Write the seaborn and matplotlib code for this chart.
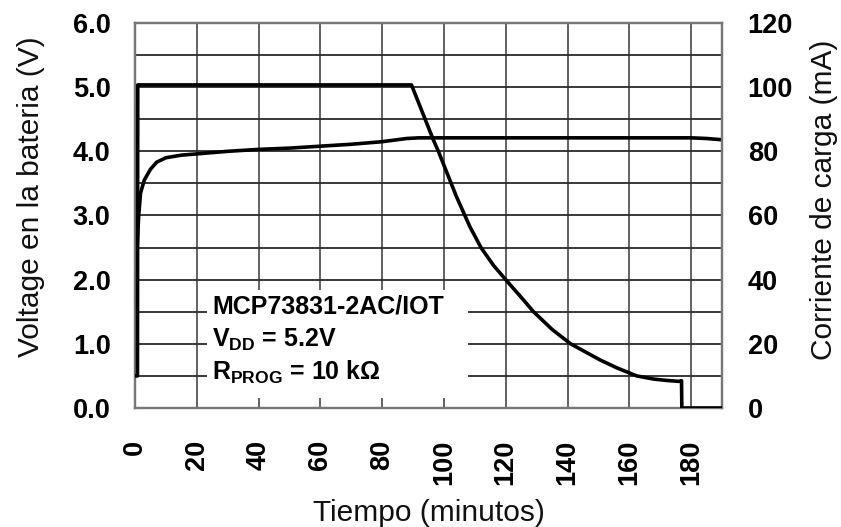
import matplotlib
matplotlib.use("Agg")
import matplotlib.pyplot as plt
import seaborn as sns
import pandas as pd
from matplotlib.patches import Rectangle

# ---- data ----
volt_t = [0.4, 0.8, 1.2, 1.8, 3.0, 5.0, 7.0, 10.0, 15.0, 20.0, 30.0, 40.0, 50.0,
          60.0, 70.0, 80.0, 88.0, 92.0, 100.0, 120.0, 140.0, 160.0, 180.0, 185.0, 190.0]
volt_v = [2.15, 2.6, 3.0, 3.35, 3.55, 3.72, 3.83, 3.9, 3.94, 3.96, 4.0, 4.03, 4.05,
          4.08, 4.11, 4.15, 4.2, 4.21, 4.21, 4.21, 4.21, 4.21, 4.21, 4.2, 4.18]

curr_t = [0.0, 0.8, 0.9, 10.0, 30.0, 50.0, 70.0, 89.5, 96.6, 98.2, 104.0, 108.4,
          112.0, 116.0, 120.0, 125.0, 129.0, 135.0, 141.0, 150.5, 156.0, 162.4,
          168.0, 172.0, 176.0, 176.9, 177.0, 190.0]
curr_i = [10.0, 10.0, 100.7, 100.7, 100.7, 100.7, 100.7, 100.7, 83.5, 80.0, 66.0, 56.5,
          50.0, 44.5, 40.0, 34.5, 30.0, 24.5, 20.0, 15.0, 12.5, 10.0,
          9.0, 8.6, 8.3, 8.5, 0.0, 0.0]

x_ticks = [0, 20, 40, 60, 80, 100, 120, 140, 160, 180]
v_ticks = [0.0, 1.0, 2.0, 3.0, 4.0, 5.0, 6.0]
i_ticks = [0, 20, 40, 60, 80, 100, 120]

annot_lines = ["MCP73831-2AC/IOT", r"V$_{\mathbf{DD}}$ = 5.2V",
               "R$_{\\mathbf{PROG}}$ = 10 k\u03A9"]

sns.set_theme(style="white")
plt.rcParams["font.family"] = ["Liberation Sans", "DejaVu Sans"]
plt.rcParams["mathtext.fontset"] = "custom"
plt.rcParams["mathtext.rm"] = "Liberation Sans"
plt.rcParams["mathtext.bf"] = "Liberation Sans:bold"

fig = plt.figure(figsize=(8.41, 5.27), dpi=100)
ax = fig.add_axes([0.1605, 0.2258, 0.6980, 0.7306])
ax2 = ax.twinx()

dv = pd.DataFrame({"t": volt_t, "v": volt_v})
di = pd.DataFrame({"t": curr_t, "i": curr_i})

sns.lineplot(data=dv, x="t", y="v", ax=ax, color="black", lw=2.6,
             estimator=None, sort=False, zorder=3)
sns.lineplot(data=di, x="t", y="i", ax=ax2, color="black", lw=2.6,
             estimator=None, sort=False, zorder=3)

ax.set_xlim(0, 190)
ax.set_ylim(0, 6)
ax2.set_ylim(0, 120)

ax.set_xticks(x_ticks)
ax.set_xticklabels([str(x) for x in x_ticks], rotation=90, fontsize=19.5,
                   fontweight="bold")
ax.set_yticks(v_ticks)
ax.set_yticklabels([f"{v:.1f}" for v in v_ticks], fontsize=19.5, fontweight="bold")
ax.set_yticks([0.5, 1.5, 2.5, 3.5, 4.5, 5.5], minor=True)
ax2.set_yticks(i_ticks)
ax2.set_yticklabels([str(i) for i in i_ticks], fontsize=19.5, fontweight="bold")

ax.tick_params(axis="both", which="both", length=0, labelcolor="black")
ax.tick_params(axis="y", pad=17.5)
ax.tick_params(axis="x", pad=23)
ax2.tick_params(axis="y", length=0, pad=18.5, labelcolor="black")

ax.set_axisbelow(True)
ax.grid(axis="y", which="both", color="#2a2a2a", lw=1.3)
ax.grid(axis="x", which="major", color="#555555", lw=1.3)
ax2.grid(False)

for a in (ax, ax2):
    for s in a.spines.values():
        s.set_color("#777777")
        s.set_linewidth(1.6)

ax.set_xlabel("Tiempo (minutos)", fontsize=21.5, labelpad=10, color="#111111")
ax.set_ylabel("Voltage en la bateria (V)", fontsize=21.5, labelpad=20, color="#111111")
ax2.set_ylabel("Corriente de carga (mA)", fontsize=21.5, labelpad=12, color="#111111")
ax.yaxis.label.set_y(0.548)
ax2.yaxis.label.set_y(0.54)

# white box behind the annotation (hides grid)
ax.add_patch(Rectangle((23.3, 0.16), 84.5, 1.68, facecolor="white",
                       edgecolor="none", zorder=1.5))
ax.text(25.0, 1.574, annot_lines[0], fontsize=18, fontweight="bold",
        va="center", ha="left", zorder=4, color="black")
ax.text(25.0, 1.06, annot_lines[1], fontsize=18, fontweight="bold",
        va="center", ha="left", zorder=4, color="black")
ax.text(25.0, 0.56, annot_lines[2], fontsize=18, fontweight="bold",
        va="center", ha="left", zorder=4, color="black")

fig.savefig("out.png", dpi=100)
